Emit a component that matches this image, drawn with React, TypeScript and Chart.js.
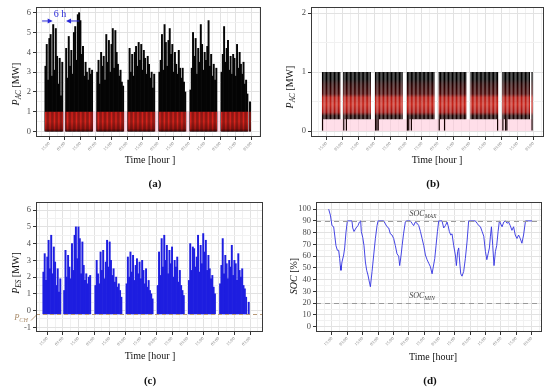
import React, { useEffect, useRef } from "react";
import { Chart, registerables } from "chart.js";
Chart.register(...registerables);

// ---------- DATA ----------
// hourly samples starting at hour 12 of day 0
const firstHour = 12;

// Panel (a): total AC power [MW]
const pacTotal = [
  3.3, 4.4, 2.6, 4.7, 4.9, 2.8, 5.4, 3.1, 5.2, 3.8, 2.4, 3.7, 1.8, 3.5,
  0, 0,
  4.2, 2.7, 4.8, 3.3, 4.1, 2.9, 5.0, 5.3, 3.6, 5.9, 6.0, 5.6, 3.9, 4.3, 2.8, 3.5, 3.0, 2.6, 3.2, 2.9, 3.1,
  0, 0, 0,
  3.0, 3.6, 2.4, 4.0, 3.3, 3.8, 2.6, 4.9, 3.5, 4.6, 3.0, 4.4, 5.2, 3.2, 5.1, 4.0, 3.4, 2.8, 3.1, 2.5, 2.3,
  0, 0, 0,
  2.6, 4.2, 3.0, 3.9, 2.8, 4.0, 4.3, 3.3, 4.5, 3.6, 4.4, 3.1, 4.1, 3.7, 2.9, 3.8, 3.4, 2.7, 3.0, 2.2, 2.9,
  0, 0, 0,
  3.0, 3.6, 4.9, 3.1, 5.4, 4.5, 3.3, 4.6, 5.2, 3.9, 4.4, 3.0, 4.0, 3.4, 2.9, 4.1, 3.2, 2.7, 3.2, 2.5, 2.0,
  0, 0, 0,
  2.1, 3.2, 5.0, 3.8, 4.7, 2.9, 4.2, 3.5, 5.4, 4.4, 3.1, 4.0, 3.6, 4.3, 5.6, 3.3, 3.9, 2.8, 3.4, 2.6, 3.2,
  0, 0, 0,
  3.0, 3.9, 5.3, 3.5, 4.2, 4.6, 3.1, 3.8, 2.9, 3.9, 3.7, 2.8, 4.4, 3.2, 4.0, 3.4, 2.9, 3.5, 2.4, 2.6, 1.9,
  0,
  1.5,
];

// Panel (b) (and red overlay in (a)): AC power of the charger, upper value [MW]
const pacChargerTop = [
  1, 1, 1, 1, 1, 1, 1, 1, 1, 1, 1, 1, 1, 1,
  0, 0,
  1, 1, 1, 1, 1, 1, 1, 1, 1, 1, 1, 1, 1, 1, 1, 1, 1, 1, 1, 1, 1,
  0, 0, 0,
  1, 1, 1, 1, 1, 1, 1, 1, 1, 1, 1, 1, 1, 1, 1, 1, 1, 1, 1, 1, 1,
  0, 0, 0,
  1, 1, 1, 1, 1, 1, 1, 1, 1, 1, 1, 1, 1, 1, 1, 1, 1, 1, 1, 1, 1,
  0, 0, 0,
  1, 1, 1, 1, 1, 1, 1, 1, 1, 1, 1, 1, 1, 1, 1, 1, 1, 1, 1, 1, 1,
  0, 0, 0,
  1, 1, 1, 1, 1, 1, 1, 1, 1, 1, 1, 1, 1, 1, 1, 1, 1, 1, 1, 1, 1,
  0, 0, 0,
  1, 1, 1, 1, 1, 1, 1, 1, 1, 1, 1, 1, 1, 1, 1, 1, 1, 1, 1, 1, 1,
  0,
  1,
];

// Panel (b): lower value of the charger band [MW]
const pacChargerBase = [
  0, 0.2, 0.2, 0.2, 0.2, 0.2, 0.2, 0.2, 0.2, 0.2, 0.2, 0.2, 0.2, 0.2,
  0, 0,
  0, 0.2, 0, 0.2, 0.2, 0.2, 0.2, 0.2, 0.2, 0.2, 0.2, 0.2, 0.2, 0.2, 0.2, 0.2, 0.2, 0.2, 0.2, 0.2, 0.2,
  0, 0, 0,
  0, 0, 0, 0.2, 0.2, 0.2, 0.2, 0.2, 0.2, 0.2, 0.2, 0.2, 0.2, 0.2, 0.2, 0.2, 0.2, 0.2, 0.2, 0.2, 0.2,
  0, 0, 0,
  0, 0, 0.2, 0, 0.2, 0.2, 0.2, 0.2, 0.2, 0.2, 0.2, 0.2, 0.2, 0.2, 0.2, 0.2, 0.2, 0.2, 0.2, 0.2, 0.2,
  0, 0, 0,
  0, 0.2, 0.2, 0.2, 0, 0.2, 0.2, 0.2, 0.2, 0.2, 0.2, 0.2, 0.2, 0.2, 0.2, 0.2, 0.2, 0.2, 0.2, 0.2, 0.2,
  0, 0, 0,
  0.2, 0.2, 0.2, 0.2, 0.2, 0.2, 0.2, 0.2, 0.2, 0.2, 0.2, 0.2, 0.2, 0.2, 0.2, 0.2, 0.2, 0.2, 0.2, 0.2, 0,
  0, 0, 0,
  0, 0.2, 0, 0, 0.2, 0.2, 0.2, 0.2, 0.2, 0.2, 0.2, 0.2, 0.2, 0.2, 0.2, 0.2, 0.2, 0.2, 0.2, 0.2, 0.2,
  0,
  0,
];

// Panel (c): energy storage power [MW]
const pesPower = [
  2.3, 3.4, 1.8, 3.2, 4.2, 2.5, 4.5, 2.2, 3.8, 2.9, 1.5, 2.5, 1.1, 1.9,
  0, 0,
  1.2, 3.6, 2.0, 3.3, 2.6, 1.9, 4.0, 2.4, 4.5, 5.0, 3.1, 5.0, 4.3, 2.2, 4.1, 2.7, 1.8, 2.2, 1.6, 2.0, 2.1,
  0, 0, 0,
  1.5, 3.0, 2.2, 1.6, 3.5, 2.4, 3.6, 1.9, 2.9, 4.2, 2.6, 4.1, 3.0, 2.1, 2.5, 1.7, 2.0, 1.4, 1.6, 1.2, 0.8,
  0, 0, 0,
  1.6, 3.2, 2.0, 3.5, 2.3, 3.3, 1.8, 2.7, 3.1, 2.2, 2.9, 1.9, 3.0, 2.4, 1.6, 2.5, 1.4, 1.8, 1.2, 1.0, 0.7,
  0, 0, 0,
  1.5, 3.5, 2.1, 4.3, 2.6, 4.5, 3.0, 3.9, 2.2, 3.6, 2.8, 3.8, 2.0, 3.0, 2.6, 3.2, 1.7, 2.4, 1.5, 1.2, 0.9,
  0, 0, 0,
  1.8, 4.0, 2.4, 3.8, 3.7, 2.6, 3.2, 4.5, 2.3, 3.9, 2.8, 4.6, 3.5, 4.2, 2.4, 3.3, 2.5, 1.9, 2.1, 1.4, 1.0,
  0, 0, 0,
  1.6, 2.7, 4.3, 2.2, 3.3, 2.8, 1.9, 3.0, 2.6, 3.9, 2.1, 3.0, 2.8, 1.8, 3.4, 2.4, 2.0, 2.5, 1.5, 1.3, 0.8,
  0,
  0.5,
];
const pChargeLevel = -0.2;

// Panel (d): state of charge
const socHours = [
  12.4, 13.7, 15.0, 16.3, 17.1, 18.1, 19.2, 20.2, 21.0, 21.5, 22.0, 22.8, 24.1, 24.9, 25.9, 27.0,
  30.6, 31.2, 32.2, 33.8, 35.3, 36.4, 37.4, 37.9, 39.0, 40.0, 41.1, 42.1, 43.1, 44.2, 45.0, 46.3,
  47.6, 48.9, 50.2, 51.0, 55.4, 58.0, 59.3, 60.6, 61.9, 63.2, 64.5, 65.8, 67.1, 67.9, 69.0, 69.8,
  70.9, 72.3, 73.1, 76.2, 77.5, 78.8, 80.1, 81.5, 82.8, 84.1, 85.4, 86.7, 88.0, 89.3, 90.6, 91.9,
  93.2, 94.0, 95.3, 96.3, 97.4, 98.4, 101.0, 102.3, 103.6, 104.9, 105.7, 106.7, 107.8, 108.8, 110.1,
  111.4, 112.2, 113.2, 114.0, 114.8, 115.6, 116.6, 117.9, 119.2, 120.5, 121.8, 127.0, 128.4, 129.7,
  131.0, 132.3, 133.6, 134.9, 136.0, 137.0, 138.0, 138.8, 139.6, 140.6, 141.6, 142.7, 143.7, 144.8,
  145.8, 147.9, 149.2, 150.5, 151.8, 153.0, 154.3, 155.6, 156.9, 158.2, 159.5, 160.8, 162.1, 163.4,
  164.7, 166.2, 171.3,
];
const socValues = [
  100, 95, 86, 85, 78, 69, 65, 65, 58, 52, 48, 55, 61, 67, 80, 90,
  90, 84, 81, 84, 86, 89, 90, 81, 76, 69, 55, 48, 44, 38, 34, 47,
  61, 75, 86, 90, 90, 85, 84, 79, 78, 75, 69, 62, 60, 52, 61, 69,
  79, 89, 90, 90, 88, 86, 89, 88, 86, 81, 75, 69, 61, 57, 54, 51,
  45, 50, 58, 69, 81, 90, 90, 84, 86, 89, 86, 81, 78, 79, 69,
  61, 52, 64, 67, 55, 45, 43, 47, 58, 72, 90, 90, 88, 86,
  85, 81, 77, 64, 57, 62, 67, 77, 85, 69, 52, 64, 69, 81,
  90, 85, 89, 90, 88, 89, 86, 82, 85, 78, 75, 78, 75, 71,
  78, 90, 90,
];
const socMax = 90;
const socMin = 20;

// Axis ticks
const xTickHours = [15, 27, 39, 51, 63, 75, 87, 99, 111, 123, 135, 147, 159, 171];
const xTickLabels = ["15:00", "03:00", "15:00", "03:00", "15:00", "03:00", "15:00", "03:00", "15:00", "03:00", "15:00", "03:00", "15:00", "03:00"];
const yTicksA = [0, 1, 2, 3, 4, 5, 6];
const yTicksB = [0, 1, 2];
const yTicksC = [-1, 0, 1, 2, 3, 4, 5, 6];
const yTicksD = [0, 10, 20, 30, 40, 50, 60, 70, 80, 90, 100];

// "6 h" annotation arrows (hours) at a given power level
const gapArrowFrom = [9.4, 38.2];
const gapArrowTo = [17.6, 27.9];
const gapArrowLevel = 5.58;

// ---------- HELPERS ----------
const SERIF = '"Liberation Serif", "Times New Roman", serif';

function barPoints(top: number[], base: number[] | number) {
  const pts: any[] = [];
  top.forEach((v, i) => {
    if (v > 0) pts.push({ x: firstHour + i, y: [Array.isArray(base) ? base[i] : base, v] });
  });
  return pts;
}

function xAxis(min: number, max: number) {
  return {
    type: "linear",
    min,
    max,
    offset: false,
    afterBuildTicks: (s: any) => {
      const minors = [xTickHours[0] - 6, ...xTickHours.map((h) => h + 6)];
      s.ticks = [...xTickHours, ...minors]
        .filter((v) => v >= min && v <= max)
        .sort((a, b) => a - b)
        .map((v) => ({ value: v }));
    },
    afterFit: (s: any) => {
      s.height = 58;
    },
    ticks: {
      autoSkip: false,
      minRotation: 45,
      maxRotation: 45,
      padding: 1,
      color: "#8a8a8a",
      font: { family: SERIF, size: 4.5 },
      callback: (v: number) => {
        const i = xTickHours.indexOf(v);
        return i >= 0 ? xTickLabels[i] : "";
      },
    },
    grid: {
      offset: false,
      color: (c: any) => (xTickHours.includes(c.tick && c.tick.value) ? "#e2e2e2" : "#f1f1f1"),
      tickLength: 3,
      tickColor: (c: any) => (xTickHours.includes(c.tick && c.tick.value) ? "#333" : "rgba(0,0,0,0)"),
    },
    border: { display: false },
  };
}

function yAxis(min: number, max: number, majors: number[], width: number) {
  const minors: number[] = [];
  for (let i = 0; i < majors.length - 1; i++) minors.push((majors[i] + majors[i + 1]) / 2);
  return {
    type: "linear",
    min,
    max,
    afterBuildTicks: (s: any) => {
      s.ticks = [...majors, ...minors].sort((a, b) => a - b).map((v) => ({ value: v }));
    },
    afterFit: (s: any) => {
      s.width = width;
    },
    ticks: {
      autoSkip: false,
      padding: 2,
      color: "#4d4d4d",
      font: { family: SERIF, size: 8.5 },
      callback: (v: number) => (majors.includes(v) ? String(v) : ""),
    },
    grid: {
      color: (c: any) => (majors.includes(c.tick && c.tick.value) ? "#e2e2e2" : "#f1f1f1"),
      tickLength: 3,
      tickColor: (c: any) => (majors.includes(c.tick && c.tick.value) ? "#333" : "rgba(0,0,0,0)"),
    },
    border: { display: false },
  };
}

const framePlugin = {
  id: "frame",
  afterDraw(chart: any) {
    const { ctx, chartArea: a } = chart;
    ctx.save();
    ctx.strokeStyle = "#3a3a3a";
    ctx.lineWidth = 1;
    ctx.strokeRect(Math.round(a.left) + 0.5, Math.round(a.top) + 0.5, Math.round(a.width) - 1, Math.round(a.height) - 1);
    ctx.restore();
  },
};

const bandPlugin = {
  id: "band",
  beforeDatasetsDraw(chart: any, _a: any, o: any) {
    if (!o || !o.color) return;
    const { ctx, chartArea: a, scales } = chart;
    const x0 = scales.x.getPixelForValue(o.x0);
    const x1 = scales.x.getPixelForValue(o.x1);
    const y0 = scales.y.getPixelForValue(o.y0);
    const y1 = scales.y.getPixelForValue(o.y1);
    ctx.save();
    ctx.beginPath();
    ctx.rect(a.left, a.top, a.width, a.height);
    ctx.clip();
    ctx.fillStyle = o.color;
    ctx.fillRect(x0, y1, x1 - x0, y0 - y1);
    ctx.restore();
  },
};

const hlinePlugin = {
  id: "hlines",
  afterDatasetsDraw(chart: any, _a: any, o: any) {
    if (!o || !o.lines) return;
    const { ctx, chartArea: a, scales } = chart;
    ctx.save();
    for (const ln of o.lines) {
      const y = Math.round(scales.y.getPixelForValue(ln.y)) + 0.5;
      ctx.strokeStyle = ln.color;
      ctx.lineWidth = 1;
      ctx.setLineDash(ln.dash);
      ctx.beginPath();
      ctx.moveTo(a.left, y);
      ctx.lineTo(a.right, y);
      ctx.stroke();
      if (ln.leader) {
        ctx.setLineDash([]);
        ctx.beginPath();
        ctx.moveTo(a.left - 5, y + 6);
        ctx.lineTo(a.left + 1, y);
        ctx.stroke();
      }
    }
    ctx.restore();
  },
};

const arrowPlugin = {
  id: "arrows",
  afterDatasetsDraw(chart: any, _a: any, o: any) {
    if (!o || !o.from) return;
    const { ctx, scales } = chart;
    const yy = scales.y.getPixelForValue(o.level);
    ctx.save();
    ctx.strokeStyle = o.color;
    ctx.fillStyle = o.color;
    ctx.lineWidth = 1;
    o.from.forEach((f: number, i: number) => {
      const x0 = scales.x.getPixelForValue(f);
      const x1 = scales.x.getPixelForValue(o.to[i]);
      const d = Math.sign(x1 - x0);
      ctx.beginPath();
      ctx.moveTo(x0, yy);
      ctx.lineTo(x1 - d * 3, yy);
      ctx.stroke();
      ctx.beginPath();
      ctx.moveTo(x1, yy);
      ctx.lineTo(x1 - d * 5, yy - 2.6);
      ctx.lineTo(x1 - d * 5, yy + 2.6);
      ctx.closePath();
      ctx.fill();
    });
    ctx.restore();
  },
};

function baseOptions(pad: { top: number; right: number }, x: any, y: any, plugins: any) {
  return {
    animation: false,
    responsive: false,
    devicePixelRatio: 1,
    layout: { padding: { top: pad.top, right: pad.right, left: 0, bottom: 0 } },
    plugins: { legend: { display: false }, tooltip: { enabled: false }, ...plugins },
    scales: { x, y },
  };
}

const barDs = (data: any[], color: any, pct: number, order: number) => ({
  data,
  backgroundColor: color,
  borderWidth: 0,
  grouped: false,
  barPercentage: pct,
  categoryPercentage: 1,
  order,
});

function chargerGradient(c: any) {
  const ch = c.chart;
  if (!ch.chartArea) return "#000";
  const y = ch.scales.y;
  const g = ch.ctx.createLinearGradient(0, y.getPixelForValue(0), 0, y.getPixelForValue(1));
  g.addColorStop(0, "#100000");
  g.addColorStop(0.26, "#1a0000");
  g.addColorStop(0.32, "#a01210");
  g.addColorStop(0.45, "#c8241a");
  g.addColorStop(0.57, "#b01812");
  g.addColorStop(0.63, "#4a0404");
  g.addColorStop(0.8, "#220000");
  g.addColorStop(0.88, "#000");
  g.addColorStop(1, "#000");
  return g;
}

function redGradient(c: any) {
  const ch = c.chart;
  if (!ch.chartArea) return "#c81c18";
  const y = ch.scales.y;
  const g = ch.ctx.createLinearGradient(0, y.getPixelForValue(0), 0, y.getPixelForValue(1));
  g.addColorStop(0, "#4a0606");
  g.addColorStop(0.15, "#a81612");
  g.addColorStop(0.5, "#d8241c");
  g.addColorStop(1, "#d01e1a");
  return g;
}

function makeA(): any {
  return {
    type: "bar",
    data: {
      datasets: [
        barDs(barPoints(pacTotal, 0), "#050505", 1, 2),
        barDs(barPoints(pacChargerTop, 0), redGradient, 0.85, 1),
      ],
    },
    options: baseOptions({ top: 7, right: 14 }, xAxis(4.7, 178.5), yAxis(-0.27, 6.28, yTicksA, 36), {
      band: { x0: firstHour - 0.5, x1: firstHour + pacTotal.length - 0.5, y0: 0, y1: 1, color: "rgba(255,190,210,0.6)" },
      arrows: { from: gapArrowFrom, to: gapArrowTo, level: gapArrowLevel, color: "#2828d8" },
    }),
    plugins: [bandPlugin, arrowPlugin, framePlugin],
  };
}

function makeB(): any {
  return {
    type: "bar",
    data: {
      datasets: [barDs(barPoints(pacChargerTop, pacChargerBase), chargerGradient, 0.9, 1)],
    },
    options: baseOptions({ top: 6, right: 6 }, xAxis(3.3, 179), yAxis(-0.1, 2.1, yTicksB, 36), {
      band: { x0: firstHour - 0.5, x1: firstHour + pacChargerTop.length - 0.5, y0: 0, y1: 0.2, color: "rgba(255,195,215,0.55)" },
    }),
    plugins: [bandPlugin, framePlugin],
  };
}

function makeC(): any {
  return {
    type: "bar",
    data: {
      datasets: [barDs(barPoints(pesPower, pChargeLevel), "#1e1ee0", 1, 1)],
    },
    options: baseOptions({ top: 7, right: 12 }, xAxis(6.3, 181), yAxis(-1.28, 6.48, yTicksC, 36), {
      hlines: { lines: [{ y: pChargeLevel, color: "#b89a78", dash: [4, 3], leader: true }] },
    }),
    plugins: [hlinePlugin, framePlugin],
  };
}

function makeD(): any {
  return {
    type: "line",
    data: {
      datasets: [
        {
          data: socHours.map((h, i) => ({ x: h, y: socValues[i] })),
          borderColor: "rgba(50,50,225,0.9)",
          borderWidth: 1,
          pointRadius: 0,
          tension: 0,
          fill: false,
        },
      ],
    },
    options: baseOptions({ top: 7, right: 8 }, xAxis(2.5, 179.1), yAxis(-4.5, 106, yTicksD, 41), {
      hlines: {
        lines: [
          { y: socMax, color: "#9a9a9a", dash: [5, 4] },
          { y: socMin, color: "#9a9a9a", dash: [5, 4] },
        ],
      },
    }),
    plugins: [hlinePlugin, framePlugin],
  };
}

function ChartBox({ left, top, make }: { left: number; top: number; make: () => any }) {
  const ref = useRef<HTMLCanvasElement>(null);
  useEffect(() => {
    const chart = new Chart(ref.current as HTMLCanvasElement, make());
    return () => chart.destroy();
  }, []);
  return (
    <div style={{ position: "absolute", left, top, width: 275, height: 195 }}>
      <canvas ref={ref} width={275} height={195} style={{ width: 275, height: 195, display: "block" }} />
    </div>
  );
}

function Txt({ x, y, rot, style, children }: any) {
  return (
    <div
      style={{
        position: "absolute",
        left: x,
        top: y,
        transform: `translate(-50%,-50%)${rot ? " rotate(-90deg)" : ""}`,
        whiteSpace: "nowrap",
        fontFamily: SERIF,
        fontSize: 10,
        lineHeight: 1,
        color: "#111",
        ...style,
      }}
    >
      {children}
    </div>
  );
}

const subStyle = { fontSize: "0.72em", fontStyle: "italic", verticalAlign: "-0.25em" } as const;

export default function App() {
  return (
    <div style={{ position: "absolute", left: 0, top: 0, width: 550, height: 390, background: "#fff", overflow: "hidden" }}>
      <ChartBox left={0} top={0} make={makeA} />
      <ChartBox left={275} top={0} make={makeB} />
      <ChartBox left={0} top={195} make={makeC} />
      <ChartBox left={275} top={195} make={makeD} />

      <Txt x={17} y={84} rot>
        <i>P</i>
        <span style={subStyle}>AC</span> [MW]
      </Txt>
      <Txt x={291} y={87} rot>
        <i>P</i>
        <span style={subStyle}>AC</span> [MW]
      </Txt>
      <Txt x={17} y={273} rot>
        <i>P</i>
        <span style={subStyle}>ES</span> [MW]
      </Txt>
      <Txt x={294} y={276} rot>
        <i>SOC</i> [%]
      </Txt>

      <Txt x={150} y={160}>Time [hour ]</Txt>
      <Txt x={437} y={160}>Time [hour ]</Txt>
      <Txt x={150} y={356}>Time [hour ]</Txt>
      <Txt x={433} y={357}>Time [hour]</Txt>

      <Txt x={155} y={183} style={{ fontWeight: "bold", fontSize: 11 }}>(a)</Txt>
      <Txt x={433} y={183} style={{ fontWeight: "bold", fontSize: 11 }}>(b)</Txt>
      <Txt x={150} y={380} style={{ fontWeight: "bold", fontSize: 11 }}>(c)</Txt>
      <Txt x={430} y={380} style={{ fontWeight: "bold", fontSize: 11 }}>(d)</Txt>

      <Txt x={60} y={14} style={{ color: "#2828d8", fontSize: 10 }}>6 h</Txt>

      <Txt x={423} y={215} style={{ color: "#444", fontSize: 8, fontStyle: "italic" }}>
        SOC<span style={subStyle}>MAX</span>
      </Txt>
      <Txt x={422} y={297} style={{ color: "#444", fontSize: 8, fontStyle: "italic" }}>
        SOC<span style={subStyle}>MIN</span>
      </Txt>
      <Txt x={21} y={318} style={{ color: "#a88a68", fontSize: 8.5 }}>
        <i>P</i>
        <span style={subStyle}>CH</span>
      </Txt>
    </div>
  );
}
